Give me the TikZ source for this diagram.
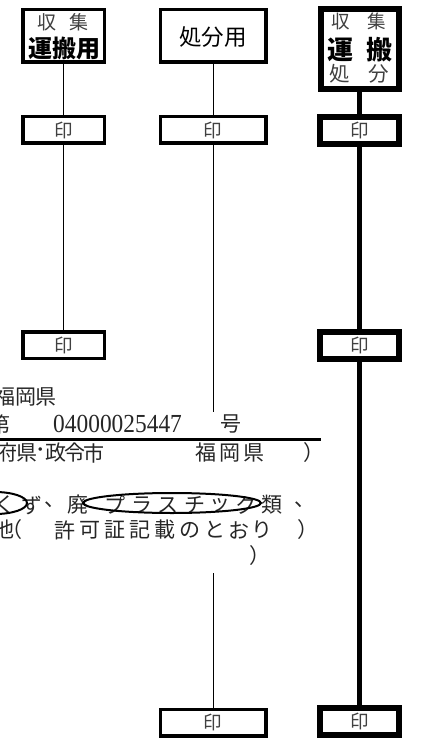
\documentclass[tikz,border=0pt]{standalone}
\usepackage{fontspec}
\newfontfamily\jp{Noto Sans CJK JP}
\newfontfamily\num{Liberation Serif}
\usetikzlibrary{positioning}
\tikzstyle{hdrbox} = [draw, rectangle, line width=3.5pt, inner sep=0pt]
\tikzstyle{hdrthick} = [hdrbox, line width=6pt]
\tikzstyle{stampbox} = [draw, rectangle, line width=3.5pt, inner sep=0pt, minimum width=81.5pt, minimum height=26.5pt, text=black!75, font=\jp\fontsize{18.5}{18.5}\selectfont]
\tikzstyle{stampthick} = [stampbox, line width=6pt, minimum width=79pt, minimum height=27pt]
\tikzstyle{lbl} = [inner sep=0pt, font=\jp]
\tikzstyle{txt} = [anchor=west, inner sep=0pt, text=black!85, font=\jp\fontsize{21}{21}\selectfont]
\tikzstyle{thinline} = [line width=1pt]
\tikzstyle{thickline} = [line width=5pt]
\tikzstyle{circled} = [line width=2pt]

\begin{document}
\begin{tikzpicture}[x=1pt, y=-1pt]
  \useasboundingbox (0,0) rectangle (433,738);
  \clip (0,0) rectangle (433,738);

  % header boxes
  \node[hdrbox, minimum width=81.5pt, minimum height=52.5pt] (h1) at (63.5,36) {};
  \node[lbl, text=black!75, font=\jp\fontsize{19}{19}\selectfont] (h1a) at (63,22) {収\hspace{14pt}集};
  \node[lbl, font=\jp\bfseries\fontsize{24}{24}\selectfont] (h1b) at (64,48) {運搬用};

  \node[hdrbox, minimum width=105.5pt, minimum height=52.5pt] (h2) at (213,36) {};
  \node[lbl, font=\jp\fontsize{22.5}{22.5}\selectfont] (h2a) at (213,37) {処分用};

  \node[hdrthick, minimum width=78pt, minimum height=80pt] (h3) at (359.5,49) {};
  \node[lbl, text=black!75, font=\jp\fontsize{18.5}{18.5}\selectfont] (h3a) at (359,21) {収\hspace{18pt}集};
  \node[lbl, font=\jp\bfseries\fontsize{26}{26}\selectfont] (h3b) at (360,50) {運\hspace{13pt}搬};
  \node[lbl, text=black!75, font=\jp\fontsize{20.5}{20.5}\selectfont] (h3c) at (359,74) {処\hspace{19pt}分};

  % stamp boxes
  \node[stampbox] (s1a) at (63.5,130) {印};
  \node[stampbox, minimum width=105.5pt] (s2a) at (213,130) {印};
  \node[stampthick] (s3a) at (359.5,130.5) {印};
  \node[stampbox] (s1b) at (63.5,345) {印};
  \node[stampthick] (s3b) at (359.5,345.5) {印};
  \node[stampbox, minimum width=105.5pt] (s2c) at (213,722.5) {印};
  \node[stampthick] (s3c) at (359.5,721.5) {印};

  \coordinate (c2a) at (213,412);
  \coordinate (c2b) at (213,573);

  % columns
  \draw[thinline] (h1) -- (s1a);
  \draw[thinline] (s1a) -- (s1b);
  \draw[thinline] (h2) -- (s2a);
  \draw[thinline] (s2a) -- (c2a);
  \draw[thinline] (c2b) -- (s2c);
  \draw[thickline] (h3) -- (s3a);
  \draw[thickline] (s3a) -- (s3b);
  \draw[thickline] (s3b) -- (s3c);

  % permit text
  \foreach \c/\x [count=\i] in {福/-6, 岡/15, 県/35}
    \node[txt] (pa\i) at (\x,397) {\c};
  \node[txt] (pb1) at (-11,424) {第};
  \node[txt, text=black!85, font=\num\fontsize{26}{26}\selectfont] (pb2) at (53,424) {\scalebox{0.9}[1]{04000025447}};
  \node[txt] (pb3) at (220,424) {号};
  \draw[line width=3pt] (0,439) -- (321,439);
  \foreach \c/\x [count=\i] in {府/-4, 県/16, ･/35.5, 政/45, 令/64, 市/83, 福/195, 岡/219, 県/243, ）/303}
    \node[txt] (pc\i) at (\x,453) {\c};
  \foreach \c/\x [count=\i] in {く/-6, ず/21, 、/44, 廃/67, プ/104, ラ/131, ス/157, チ/184, ッ/209, ク/235, 類/261, 、/294}
    \node[txt] (pd\i) at (\x,505) {\c};
  \foreach \c/\x [count=\i] in {他/-7, （/1, 許/54, 可/79, 証/104, 記/129, 載/154, の/179, と/204, お/228, り/251, ）/297}
    \node[txt] (pe\i) at (\x,530) {\c};
  \node[txt] (pf1) at (249,556) {）};

  \draw[circled] (-5,503) ellipse [x radius=32, y radius=11];
  \draw[circled] (172,503) ellipse [x radius=89, y radius=10];
\end{tikzpicture}
\end{document}
